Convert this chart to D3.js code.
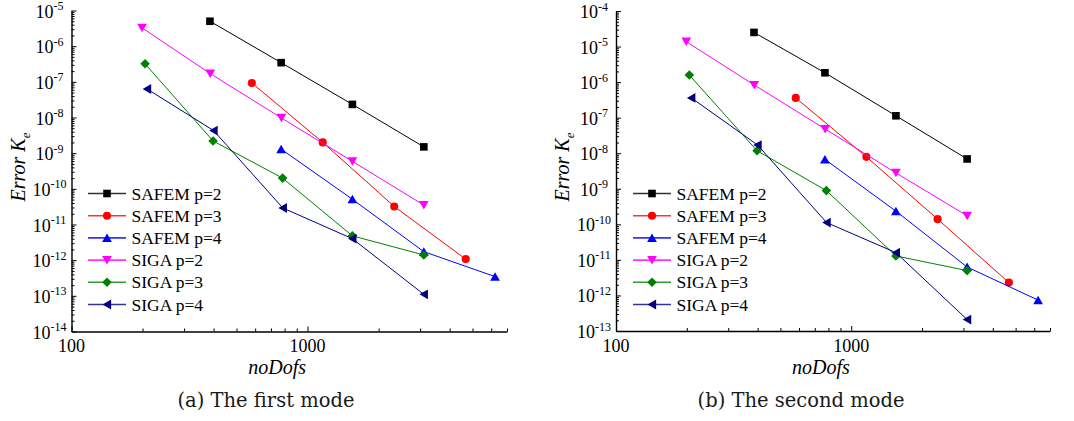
<!DOCTYPE html>
<html>
<head>
<meta charset="utf-8">
<script src="https://cdn.jsdelivr.net/npm/d3@7"></script>
<style>
    body { margin: 0; background: #fff; }
    svg { display: block; }
    .serif { font-family: "Liberation Serif", "Times New Roman", serif; }
    .caption { font-family: "DejaVu Serif", serif; font-size: 19.5px; fill: #1a1a1a; }
    .axis path, .axis line { stroke: #000; }
</style>
</head>
<body>
<div id="chart"></div>
<script>
// number of degrees of freedom of each series (same meshes for both modes)
let dofsSafemP2 = [386, 773, 1549, 3110];
let dofsSafemP3 = [581, 1160, 2330, 4680];
let dofsSafemP4 = [773, 1549, 3110, 6230];
let dofsSigaP2 = [199, 387, 775, 1549, 3110];
let dofsSigaP3 = [205, 398, 784, 1549, 3110];
let dofsSigaP4 = [209, 400, 786, 1549, 3110];

// error in K_e, first mode
let mode1SafemP2 = [5.0e-6, 3.45e-7, 2.33e-8, 1.5e-9];
let mode1SafemP3 = [9.3e-8, 2.0e-9, 3.2e-11, 1.07e-12];
let mode1SafemP4 = [1.3e-9, 5.1e-11, 1.73e-12, 3.46e-13];
let mode1SigaP2 = [3.27e-6, 1.7e-7, 9.7e-9, 5.9e-10, 3.5e-11];
let mode1SigaP3 = [3.2e-7, 2.2e-9, 2.0e-10, 4.8e-12, 1.4e-12];
let mode1SigaP4 = [6.3e-8, 4.3e-9, 2.9e-11, 4.0e-12, 1.1e-13];

// error in K_e, second mode
let mode2SafemP2 = [2.5e-5, 1.83e-6, 1.13e-7, 6.9e-9];
let mode2SafemP3 = [3.6e-7, 7.9e-9, 1.4e-10, 2.3e-12];
let mode2SafemP4 = [6.7e-9, 2.35e-10, 6.3e-12, 7.4e-13];
let mode2SigaP2 = [1.37e-5, 8.3e-7, 4.8e-8, 2.8e-9, 1.74e-10];
let mode2SigaP3 = [1.58e-6, 1.17e-8, 8.9e-10, 1.29e-11, 5.0e-12];
let mode2SigaP4 = [3.6e-7, 1.7e-8, 1.12e-10, 1.6e-11, 2.1e-13];

let seriesNames = ["SAFEM p=2", "SAFEM p=3", "SAFEM p=4", "SIGA p=2", "SIGA p=3", "SIGA p=4"];
let xTickValues = [100, 1000];
let mode1Exponents = [-14, -13, -12, -11, -10, -9, -8, -7, -6, -5];
let mode2Exponents = [-13, -12, -11, -10, -9, -8, -7, -6, -5, -4];
let captions = ["(a) The first mode", "(b) The second mode"];

let seriesColors = ["#000000", "#ff0000", "#0000ff", "#ff00ff", "#008000", "#000080"];
let seriesShapes = ["square", "circle", "up", "down", "diamond", "left"];

function buildSeries(dofs, errors) {
    return seriesNames.map(function(name, i) {
        return {
            name: name,
            color: seriesColors[i],
            shape: seriesShapes[i],
            values: dofs[i].map((d, j) => ({dofs: d, err: errors[i][j]}))
        };
    });
}

let allDofs = [dofsSafemP2, dofsSafemP3, dofsSafemP4, dofsSigaP2, dofsSigaP3, dofsSigaP4];
let mode1 = buildSeries(allDofs, [mode1SafemP2, mode1SafemP3, mode1SafemP4, mode1SigaP2, mode1SigaP3, mode1SigaP4]);
let mode2 = buildSeries(allDofs, [mode2SafemP2, mode2SafemP3, mode2SafemP4, mode2SigaP2, mode2SigaP3, mode2SigaP4]);

function markerPath(shape) {
    switch (shape) {
        case "square": return "M-3.8,-3.8H3.8V3.8H-3.8Z";
        case "circle": return d3.symbol(d3.symbolCircle, 52)();
        case "up": return "M0,-4.4L4.9,4.1L-4.9,4.1Z";
        case "down": return "M0,4.4L4.9,-4.1L-4.9,-4.1Z";
        case "diamond": return "M0,-4.8L4.8,0L0,4.8L-4.8,0Z";
        case "left": return "M-4.4,0L4.1,-4.9L4.1,4.9Z";
    }
}

let svg = d3.select("#chart").append("svg")
    .attr("width", 1074)
    .attr("height", 421);

svg.append("rect")
    .attr("width", 1074)
    .attr("height", 421)
    .attr("fill", "#fff");

function ErrorPanel(parent, config) {
    let vis = this;

    vis.parent = parent;
    vis.config = config;
    vis.data = config.series;

    vis.initVis();
}

ErrorPanel.prototype.initVis = function() {
    let vis = this;
    let c = vis.config;

    vis.g = vis.parent.append("g");

    vis.x = d3.scaleLog()
        .domain([100, 7000])
        .range([c.left, c.right]);
    vis.y = d3.scaleLog()
        .domain([Math.pow(10, c.exponents[0]), Math.pow(10, c.exponents[c.exponents.length - 1])])
        .range([c.bottom, c.top]);

    let xMinor = [];
    [100, 1000].forEach(function(base) {
        for (let k = 2; k <= 9; k++) {
            if (k * base <= 7000) xMinor.push(k * base);
        }
    });
    let yMinor = [];
    c.exponents.slice(0, -1).forEach(function(e) {
        for (let k = 2; k <= 9; k++) yMinor.push(k * Math.pow(10, e));
    });

    // minor ticks first, then major ticks with the axis line
    vis.g.append("g")
        .attr("class", "axis")
        .attr("transform", "translate(0," + c.bottom + ")")
        .call(d3.axisBottom(vis.x).tickValues(xMinor).tickSize(-3).tickSizeOuter(0).tickFormat(""))
        .call(g => g.select(".domain").remove());
    vis.g.append("g")
        .attr("class", "axis")
        .attr("transform", "translate(" + c.left + ",0)")
        .call(d3.axisLeft(vis.y).tickValues(yMinor).tickSize(-3).tickSizeOuter(0).tickFormat(""))
        .call(g => g.select(".domain").remove());

    vis.g.append("g")
        .attr("class", "axis")
        .attr("transform", "translate(0," + c.bottom + ")")
        .call(d3.axisBottom(vis.x).tickValues(xTickValues).tickSize(-5).tickSizeOuter(0).tickFormat(""))
        .call(g => g.select(".domain").attr("stroke-width", 1.4));
    vis.g.append("g")
        .attr("class", "axis")
        .attr("transform", "translate(" + c.left + ",0)")
        .call(d3.axisLeft(vis.y).tickValues(c.exponents.map(e => Math.pow(10, e))).tickSize(-5).tickSizeOuter(0).tickFormat(""))
        .call(g => g.select(".domain").attr("stroke-width", 1.4));

    // tick labels
    vis.g.selectAll("text.xlabel")
        .data(xTickValues)
        .enter()
        .append("text")
        .attr("class", "xlabel serif")
        .attr("x", d => vis.x(d))
        .attr("y", c.bottom + 20.5)
        .attr("text-anchor", "middle")
        .style("font-size", "18px")
        .text(d => d);

    let ylab = vis.g.selectAll("text.ylabel")
        .data(c.exponents)
        .enter()
        .append("text")
        .attr("class", "ylabel serif")
        .attr("x", c.left - 22)
        .attr("y", d => vis.y(Math.pow(10, d)) + 7)
        .attr("text-anchor", "middle")
        .style("font-size", "18px");
    ylab.append("tspan").text("10");
    ylab.append("tspan")
        .attr("dy", -7.5)
        .style("font-size", "12px")
        .text(d => "-" + Math.abs(d));

    // axis titles
    vis.g.append("text")
        .attr("class", "serif")
        .attr("x", (c.left + c.right) / 2 - 12)
        .attr("y", c.bottom + 42.5)
        .attr("text-anchor", "middle")
        .style("font-size", "20px")
        .style("font-style", "italic")
        .text("noDofs");

    let ytitle = vis.g.append("text")
        .attr("class", "serif")
        .attr("transform", "translate(" + (c.left - 47) + ",167) rotate(-90)")
        .attr("text-anchor", "middle")
        .style("font-size", "20px")
        .style("font-style", "italic");
    ytitle.append("tspan").text("Error K");
    ytitle.append("tspan")
        .attr("dy", 5)
        .style("font-size", "13px")
        .text("e");

    vis.g.append("text")
        .attr("class", "caption")
        .attr("x", c.captionX)
        .attr("y", 407)
        .attr("text-anchor", "middle")
        .text(c.caption);

    vis.line = d3.line()
        .x(d => vis.x(d.dofs))
        .y(d => vis.y(d.err));

    vis.updateVis();
};

ErrorPanel.prototype.updateVis = function() {
    let vis = this;
    let c = vis.config;

    let series = vis.g.selectAll("g.series")
        .data(vis.data)
        .enter()
        .append("g")
        .attr("class", "series");

    series.append("path")
        .attr("d", d => vis.line(d.values))
        .attr("fill", "none")
        .attr("stroke", d => d.color)
        .attr("stroke-width", 1);

    series.each(function(s) {
        d3.select(this).selectAll("path.marker")
            .data(s.values)
            .enter()
            .append("path")
            .attr("class", "marker")
            .attr("transform", d => "translate(" + vis.x(d.dofs) + "," + vis.y(d.err) + ")")
            .attr("d", markerPath(s.shape))
            .attr("fill", s.color);
    });

    // legend
    let legend = vis.g.selectAll("g.legend")
        .data(vis.data)
        .enter()
        .append("g")
        .attr("class", "legend")
        .attr("transform", (d, i) => "translate(" + c.legendX + "," + (193.5 + i * 22.2) + ")");

    legend.append("line")
        .attr("x1", 0)
        .attr("x2", 38)
        .attr("stroke", d => d.color)
        .attr("stroke-opacity", 0.8)
        .attr("stroke-width", 1.6);
    legend.append("path")
        .attr("transform", "translate(19,0)")
        .attr("d", d => markerPath(d.shape))
        .attr("fill", d => d.color);
    legend.append("text")
        .attr("class", "serif")
        .attr("x", 43.5)
        .attr("y", 6)
        .style("font-size", "17.5px")
        .text(d => d.name);
};

new ErrorPanel(svg, {
    series: mode1,
    exponents: mode1Exponents,
    left: 71.5, right: 507, top: 10.5, bottom: 331.5,
    legendX: 88, captionX: 266, caption: captions[0]
});
new ErrorPanel(svg, {
    series: mode2,
    exponents: mode2Exponents,
    left: 616, right: 1050, top: 11, bottom: 331,
    legendX: 633, captionX: 801, caption: captions[1]
});
</script>
</body>
</html>
